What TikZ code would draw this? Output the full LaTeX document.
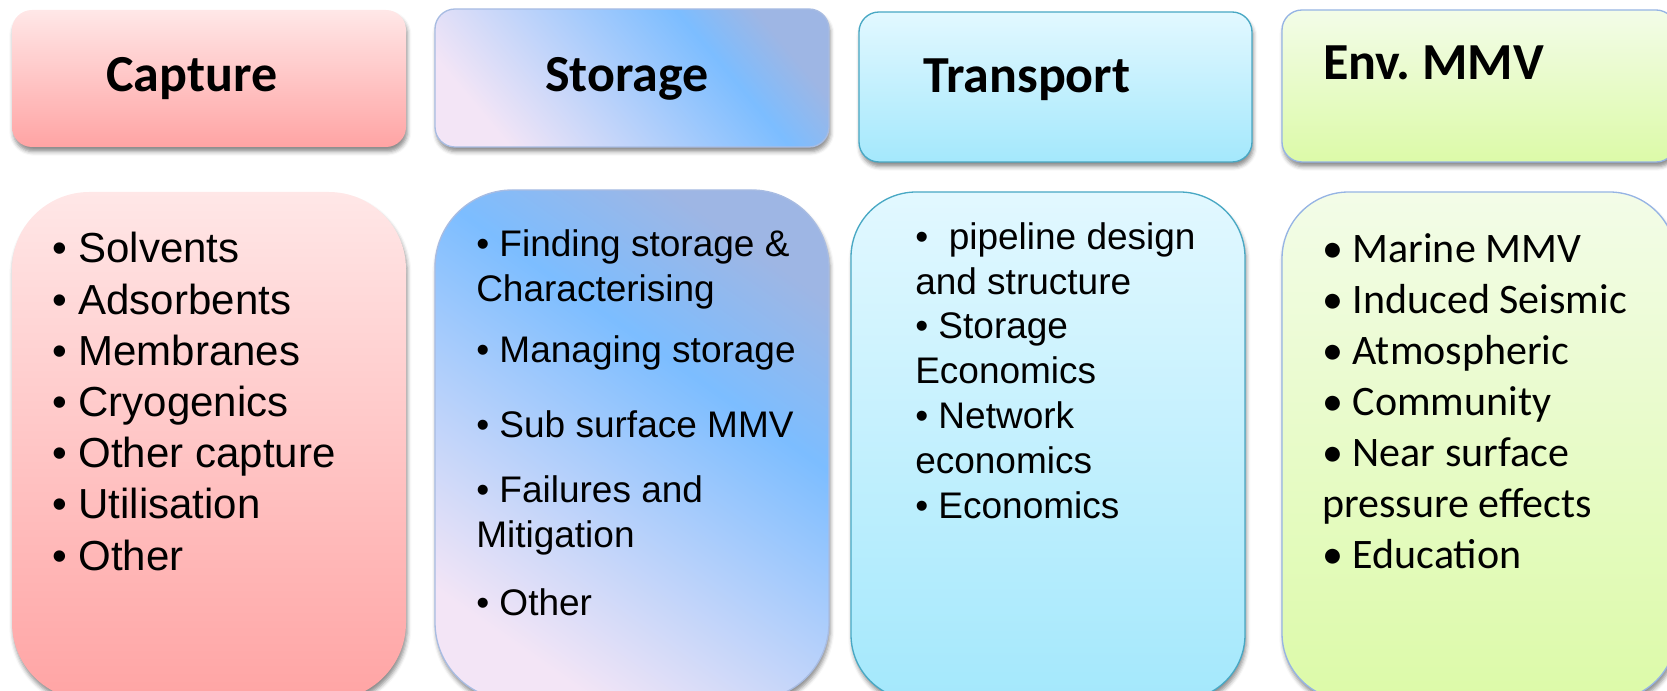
\documentclass[tikz,border=0pt]{standalone}
\usepackage{fontspec}
\setmainfont{Liberation Sans}
\newfontfamily\calibri{Carlito}
\usetikzlibrary{shadows.blur}

\definecolor{capTop}{RGB}{255,231,231}
\definecolor{capBot}{RGB}{255,164,164}
\definecolor{stoLow}{RGB}{243,229,246}
\definecolor{stoMid}{RGB}{124,189,255}
\definecolor{stoHigh}{RGB}{158,182,228}
\definecolor{stoLine}{RGB}{168,188,226}
\definecolor{traTop}{RGB}{226,248,255}
\definecolor{traBot}{RGB}{164,232,252}
\definecolor{traLine}{RGB}{72,168,196}
\definecolor{envTop}{RGB}{243,252,232}
\definecolor{envBot}{RGB}{220,250,168}
\definecolor{envLine}{RGB}{150,180,228}

\pgfdeclareverticalshading{storageshade}{100bp}{color(0bp)=(stoLow); color(25bp)=(stoLow); color(60bp)=(stoMid); color(75bp)=(stoHigh); color(100bp)=(stoHigh)}
\pgfdeclareverticalshading{storagehead}{100bp}{color(0bp)=(stoLow); color(25bp)=(stoLow); color(64bp)=(stoMid); color(75bp)=(stoHigh); color(100bp)=(stoHigh)}

\tikzset{
  boxshadow/.style={blur shadow={shadow xshift=1pt, shadow yshift=-3.5pt, shadow blur radius=3pt, shadow opacity=45}},
  headbox/.style={boxshadow, rounded corners=15pt, line width=1pt},
  listbox/.style={boxshadow, rounded corners=58pt, line width=1pt},
  headtext/.style={anchor=base west, inner sep=0pt, font=\calibri\bfseries\fontsize{39pt}{47pt}\selectfont},
  arialbig/.style={anchor=base west, inner sep=0pt, align=left, font=\fontsize{31.5pt}{38.4pt}\selectfont},
  arialsmall/.style={anchor=base west, inner sep=0pt, align=left, font=\fontsize{27.75pt}{33.6pt}\selectfont},
  calibrilist/.style={anchor=base west, inner sep=0pt, align=left, font=\calibri\fontsize{31.5pt}{38.25pt}\selectfont}
}

\begin{document}
\begin{tikzpicture}[x=0.75pt,y=0.75pt,yscale=-1,xscale=1]
\clip (0,0) rectangle (1667,691);

% Header boxes
\path [headbox, top color=capTop, bottom color=capBot] (12,10) rectangle (406,147);
\path [headbox, draw=stoLine, shading=storagehead, shading angle=-50] (435,9) rectangle (829,147);
\path [headbox, draw=traLine, top color=traTop, bottom color=traBot] (859,12) rectangle (1252,162);
\path [headbox, draw=envLine, top color=envTop, bottom color=envBot] (1282,10) rectangle (1676,162);

% List boxes
\path [listbox, top color=capTop, bottom color=capBot] (12,192) rectangle (406,700);
\path [listbox, draw=stoLine, shading=storageshade, shading angle=-35] (435,190) rectangle (829,700);
\path [listbox, rounded corners=49pt, draw=traLine, top color=traTop, bottom color=traBot] (851,192) rectangle (1245,700);
\path [listbox, rounded corners=50pt, draw=envLine, top color=envTop, bottom color=envBot] (1282,192) rectangle (1676,700);

% Header texts
\node (captureHead) [headtext] at (106,92) {Capture};
\node (storageHead) [headtext] at (545,92) {Storage};
\node (transportHead) [headtext] at (923,93) {Transport};
\node (envHead) [headtext] at (1323,80) {Env.\ MMV};

% List texts (placed by the baseline of the last line)
\node (captureList) [arialbig] at (52,570) {• Solvents\\• Adsorbents\\• Membranes\\• Cryogenics\\• Other capture\\• Utilisation\\• Other};
\node (storageList) [arialsmall] at (476,615) {• Finding storage \&\\Characterising\\[12pt]• Managing storage\\[23pt]• Sub surface MMV\\[15pt]• Failures and\\Mitigation\\[17pt]• Other};
\node (transportList) [arialsmall] at (915,518) {•~ pipeline design\\and structure\\• Storage\\Economics\\• Network\\economics\\• Economics};
\node (envList) [calibrilist] at (1322,568) {• Marine MMV\\• Induced Seismic\\• Atmospheric\\• Community\\• Near surface\\pressure effects\\• Education};

\end{tikzpicture}
\end{document}
